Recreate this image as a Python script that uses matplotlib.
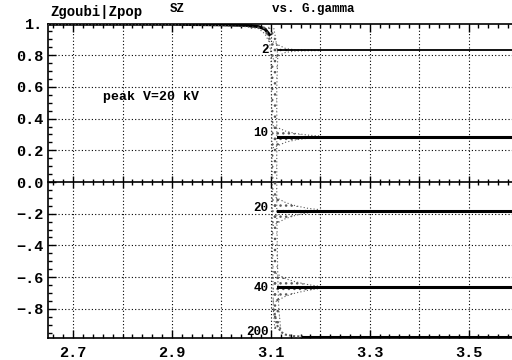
import numpy as np
import matplotlib
matplotlib.use("Agg")
import matplotlib.pyplot as plt
from matplotlib.ticker import MultipleLocator, FixedLocator, FixedFormatter

plt.rcParams['font.family'] = ['Liberation Mono', 'DejaVu Sans Mono']
plt.rcParams['font.weight'] = 'bold'
plt.rcParams['hatch.linewidth'] = 1.0

# ---------------- data ----------------
xlim = (2.649, 3.588)
ylim = (-0.984, 1.0)

# common plateau before the resonance (Sz ~ 1)
pre_x = [2.649, 2.90, 3.00, 3.05, 3.075, 3.088, 3.097]
pre_y = [0.995, 0.995, 0.992, 0.988, 0.98, 0.965, 0.93]
pre_hw = [0.003, 0.003, 0.005, 0.008, 0.012, 0.03, 0.05]

# vertical scatter column at the crossing (Sz levels vs G.gamma bounds)
col_y = [0.97, 0.90, 0.80, 0.60, 0.40, 0.20, 0.0, -0.20, -0.40, -0.60, -0.80, -0.93]
col_xlo = [3.090, 3.097, 3.100, 3.101, 3.102, 3.102, 3.103, 3.103, 3.103, 3.104, 3.105, 3.108]
col_xhi = [3.106, 3.110, 3.114, 3.112, 3.112, 3.112, 3.112, 3.112, 3.113, 3.114, 3.116, 3.120]

# curves after crossing: labels, final Sz values, funnel half-widths
curve_labels = ['2', '10', '20', '40']
final_sz = [0.830, 0.286, -0.180, -0.665]
funnel_x = [3.104, 3.115, 3.130, 3.150, 3.175, 3.200]
funnel_hw = [
    [0.055, 0.035, 0.012, 0.004, 0.002, 0.001],
    [0.070, 0.055, 0.035, 0.020, 0.010, 0.004],
    [0.095, 0.075, 0.050, 0.030, 0.014, 0.005],
    [0.100, 0.080, 0.055, 0.035, 0.018, 0.006],
]
label_y = [0.835, 0.31, -0.165, -0.67]

# fastest-crossing curve (200)
c200_label = '200'
c200_x = [3.106, 3.112, 3.120, 3.130, 3.145, 3.165]
c200_y = [-0.80, -0.90, -0.945, -0.963, -0.972, -0.975]
c200_final = -0.975
c200_label_y = -0.945

xticks = [2.7, 2.9, 3.1, 3.3, 3.5]
yticks = [1.0, 0.8, 0.6, 0.4, 0.2, 0.0, -0.2, -0.4, -0.6, -0.8]
ytick_labels = ['1.', '0.8', '0.6', '0.4', '0.2', '0.0', '\u2212.2', '\u2212.4', '\u2212.6', '\u2212.8']

# ---------------- figure ----------------
fig = plt.figure(figsize=(5.12, 3.6), dpi=100)
ax = fig.add_axes([48/512, 1 - 338/360, 1 - 48/512, (338 - 23.5)/360])
ax.set_xlim(*xlim)
ax.set_ylim(*ylim)

dot_ls = (0, (1, 2))
ax.xaxis.set_major_locator(FixedLocator(xticks))
ax.xaxis.set_minor_locator(MultipleLocator(0.02))
ax.yaxis.set_major_locator(FixedLocator(yticks))
ax.yaxis.set_major_formatter(FixedFormatter(ytick_labels))
ax.yaxis.set_minor_locator(MultipleLocator(0.05))
ax.tick_params(axis='both', which='major', direction='in', length=6, width=1,
               labelsize=11, top=True, right=False)
ax.tick_params(axis='both', which='minor', direction='in', length=3, width=1,
               top=True, right=False)
ax.tick_params(axis='x', which='major', pad=6)
ax.set_xticklabels([f'{v:.1f}' for v in xticks], fontweight='bold')
for t in ax.get_yticklabels():
    t.set_fontweight('bold')
ax.spines['right'].set_visible(False)
for s in ['left', 'bottom', 'top']:
    ax.spines[s].set_linewidth(1.2)

# grid: vertical every 0.1, horizontal every 0.2
for gx in np.arange(2.7, 3.59, 0.1):
    ax.axvline(gx, color='black', lw=0.8, ls=dot_ls, zorder=1)
for gy in yticks[1:]:
    if gy != 0.0:
        ax.axhline(gy, color='black', lw=0.8, ls=dot_ls, zorder=1)

# zero axis with ticks
zero_pos = (0 - ylim[0]) / (ylim[1] - ylim[0])
sec = ax.secondary_xaxis(zero_pos)
sec.xaxis.set_major_locator(MultipleLocator(0.1))
sec.xaxis.set_minor_locator(MultipleLocator(0.02))
sec.tick_params(which='major', direction='inout', length=8, width=1, labelbottom=False, labeltop=False)
sec.tick_params(which='minor', direction='inout', length=5, width=1)
sec.spines['bottom'].set_linewidth(1.2)
sec.spines['top'].set_linewidth(1.2)
sec.set_xticklabels([])

dotcol = '0.35'
# plateau before crossing
px = np.array(pre_x); py = np.array(pre_y); ph = np.array(pre_hw)
ax.plot(px, py, color='black', lw=2.2, zorder=3)
ax.fill_between(px, py - ph, py + ph, facecolor='none', edgecolor=dotcol,
                hatch='...', lw=0, zorder=3)
ax.plot(px, py - ph, color=dotcol, lw=0.8, ls=dot_ls, zorder=3)

# crossing column
ax.fill_betweenx(col_y, col_xlo, col_xhi, facecolor='none', edgecolor=dotcol,
                 hatch='...', lw=0, zorder=3)
ax.plot(col_xlo, col_y, color=dotcol, lw=0.8, ls=dot_ls, zorder=3)
ax.plot(col_xhi, col_y, color=dotcol, lw=0.8, ls=dot_ls, zorder=3)

# funnels and final plateaus
fx = np.array(funnel_x)
for lab, v, hw, ly in zip(curve_labels, final_sz, funnel_hw, label_y):
    hw = np.array(hw)
    ax.fill_between(fx, v - hw, v + hw, facecolor='none', edgecolor=dotcol,
                    hatch='...', lw=0, zorder=3)
    ax.plot(fx, v + hw, color=dotcol, lw=0.8, ls=dot_ls, zorder=3)
    ax.plot(fx, v - hw, color=dotcol, lw=0.8, ls=dot_ls, zorder=3)
    ax.plot([fx[0] + 0.01, xlim[1]], [v, v], color='black',
            lw=1.3 if lab == '2' else 2.2, zorder=4)
    ax.text(3.095, ly, lab, ha='right', va='center', fontsize=9, fontweight='bold', zorder=5)

ax.plot(c200_x, c200_y, color=dotcol, lw=1.5, ls=(0, (1, 1)), zorder=3)
ax.plot([c200_x[-1], xlim[1]], [c200_final, c200_final], color='black', lw=2.2, zorder=4)
ax.text(3.095, c200_label_y, c200_label, ha='right', va='center', fontsize=9,
        fontweight='bold', zorder=5)

ax.text(2.76, 0.535, 'peak V=20 kV', ha='left', va='center', fontsize=9.5, fontweight='bold')

fig.text(50/512, 1 - 12/360, 'Zgoubi|Zpop', ha='left', va='center', fontsize=10, fontweight='bold')
fig.text(170/512, 1 - 9/360, 'SZ', ha='left', va='center', fontsize=9, fontweight='bold')
fig.text(272/512, 1 - 9/360, 'vs. G.gamma', ha='left', va='center', fontsize=9, fontweight='bold')

fig.savefig('out.png', dpi=100)
